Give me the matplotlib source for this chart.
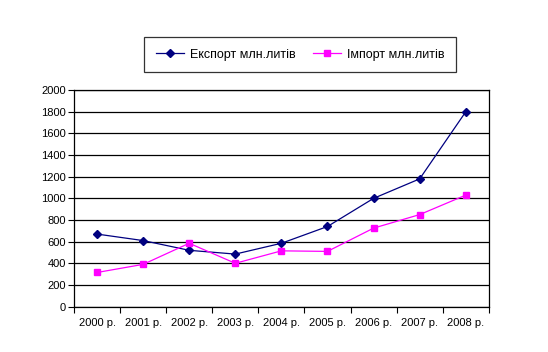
import numpy as np
import matplotlib.pyplot as plt
from matplotlib.ticker import FixedLocator, NullFormatter

plt.rcParams['font.family'] = ['Liberation Sans', 'DejaVu Sans']

years = ['2000 р.', '2001 р.', '2002 р.', '2003 р.', '2004 р.',
         '2005 р.', '2006 р.', '2007 р.', '2008 р.']
export_vals = [670, 610, 520, 485, 585, 740, 1000, 1180, 1800]
import_vals = [315, 390, 585, 400, 515, 510, 725, 850, 1030]

fig = plt.figure(figsize=(5.48, 3.52), dpi=100)
ax = fig.add_axes([0.135, 0.129, 0.757, 0.615])

x = np.arange(len(years))
l1, = ax.plot(x, export_vals, color='#000080', lw=0.9, marker='D', ms=4,
              label='Експорт млн.литів')
l2, = ax.plot(x, import_vals, color='#FF00FF', lw=0.9, marker='s', ms=5,
              label='Імпорт млн.литів')

ax.set_xlim(-0.5, len(years) - 0.5)
ax.set_ylim(0, 2000)
ax.set_yticks(range(0, 2001, 200))
ax.yaxis.grid(True, color='black', lw=0.9)
ax.set_axisbelow(True)

# підписи по центру категорій, засічки між категоріями
ax.set_xticks(x)
ax.set_xticklabels(years, fontsize=8)
ax.tick_params(axis='x', length=0, pad=8)
ax.xaxis.set_minor_locator(FixedLocator(np.arange(-0.5, len(years), 1)))
ax.xaxis.set_minor_formatter(NullFormatter())
ax.tick_params(axis='x', which='minor', length=4, width=0.8, direction='out')
ax.tick_params(axis='y', labelsize=8, length=4, width=0.8, direction='out', pad=2)

for s in ax.spines.values():
    s.set_color('black')
    s.set_linewidth(0.9)

leg = fig.legend(handles=[l1, l2], loc='center', bbox_to_anchor=(0.548, 0.845),
                 ncol=2, fontsize=9, frameon=True, fancybox=False,
                 edgecolor='black', handlelength=2.2, handletextpad=0.5,
                 columnspacing=1.4, borderpad=0.95)
leg.get_frame().set_linewidth(0.9)

fig.savefig('out.png', dpi=100)
